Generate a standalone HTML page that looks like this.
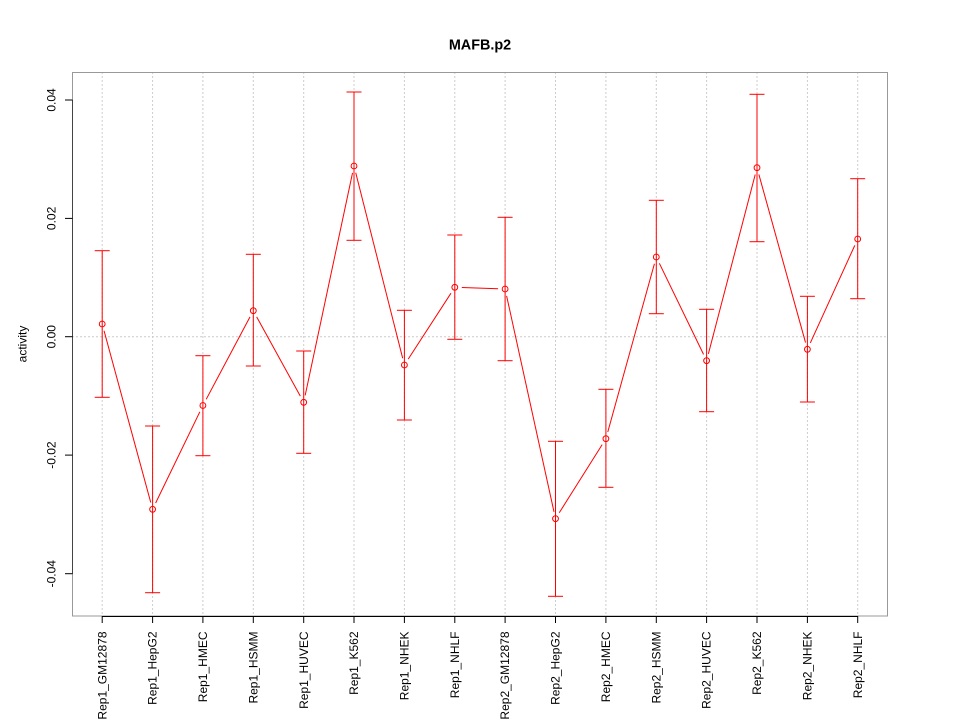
<!DOCTYPE html>
<html><head><meta charset="utf-8"><style>
html,body{margin:0;padding:0;background:#fff;}
svg{display:block;}
text{font-family:"Liberation Sans",Arial,sans-serif;fill:#000;}
</style></head><body>
<svg width="960" height="720" viewBox="0 0 960 720" xmlns="http://www.w3.org/2000/svg">
<rect x="0" y="0" width="960" height="720" fill="#fff"/>
<g stroke="#cccccc" stroke-width="1" stroke-dasharray="2,2" fill="none">
<line x1="102.2" y1="72" x2="102.2" y2="616"/>
<line x1="152.6" y1="72" x2="152.6" y2="616"/>
<line x1="202.9" y1="72" x2="202.9" y2="616"/>
<line x1="253.3" y1="72" x2="253.3" y2="616"/>
<line x1="303.7" y1="72" x2="303.7" y2="616"/>
<line x1="354.0" y1="72" x2="354.0" y2="616"/>
<line x1="404.4" y1="72" x2="404.4" y2="616"/>
<line x1="454.8" y1="72" x2="454.8" y2="616"/>
<line x1="505.1" y1="72" x2="505.1" y2="616"/>
<line x1="555.5" y1="72" x2="555.5" y2="616"/>
<line x1="605.9" y1="72" x2="605.9" y2="616"/>
<line x1="656.3" y1="72" x2="656.3" y2="616"/>
<line x1="706.6" y1="72" x2="706.6" y2="616"/>
<line x1="757.0" y1="72" x2="757.0" y2="616"/>
<line x1="807.4" y1="72" x2="807.4" y2="616"/>
<line x1="857.7" y1="72" x2="857.7" y2="616"/>
<line x1="72" y1="336.7" x2="888" y2="336.7"/>
</g>
<rect x="72.5" y="72.5" width="815" height="543.5" fill="none" stroke="#999" stroke-width="1"/>
<g stroke="#000" stroke-width="1" fill="none">
<line x1="72.5" y1="100" x2="72.5" y2="573.7" stroke="#444"/>
<line x1="65" y1="100" x2="72.5" y2="100"/>
<line x1="65" y1="218.4" x2="72.5" y2="218.4"/>
<line x1="65" y1="336.7" x2="72.5" y2="336.7"/>
<line x1="65" y1="455.1" x2="72.5" y2="455.1"/>
<line x1="65" y1="573.7" x2="72.5" y2="573.7"/>
<line x1="102.2" y1="616.5" x2="857.7" y2="616.5"/>
<line x1="102.2" y1="616" x2="102.2" y2="623"/>
<line x1="152.6" y1="616" x2="152.6" y2="623"/>
<line x1="202.9" y1="616" x2="202.9" y2="623"/>
<line x1="253.3" y1="616" x2="253.3" y2="623"/>
<line x1="303.7" y1="616" x2="303.7" y2="623"/>
<line x1="354.0" y1="616" x2="354.0" y2="623"/>
<line x1="404.4" y1="616" x2="404.4" y2="623"/>
<line x1="454.8" y1="616" x2="454.8" y2="623"/>
<line x1="505.1" y1="616" x2="505.1" y2="623"/>
<line x1="555.5" y1="616" x2="555.5" y2="623"/>
<line x1="605.9" y1="616" x2="605.9" y2="623"/>
<line x1="656.3" y1="616" x2="656.3" y2="623"/>
<line x1="706.6" y1="616" x2="706.6" y2="623"/>
<line x1="757.0" y1="616" x2="757.0" y2="623"/>
<line x1="807.4" y1="616" x2="807.4" y2="623"/>
<line x1="857.7" y1="616" x2="857.7" y2="623"/>
</g>
<g font-size="12" text-anchor="middle">
<text transform="translate(55.3,100) rotate(-90)">0.04</text>
<text transform="translate(55.3,218.4) rotate(-90)">0.02</text>
<text transform="translate(55.3,336.7) rotate(-90)">0.00</text>
<text transform="translate(55.3,455.1) rotate(-90)">-0.02</text>
<text transform="translate(55.3,573.7) rotate(-90)">-0.04</text>
<text transform="translate(26.5,344) rotate(-90)">activity</text>
</g>
<g font-size="12" text-anchor="end">
<text transform="translate(106.3,631.5) rotate(-90)">Rep1_GM12878</text>
<text transform="translate(156.7,631.5) rotate(-90)">Rep1_HepG2</text>
<text transform="translate(207.0,631.5) rotate(-90)">Rep1_HMEC</text>
<text transform="translate(257.4,631.5) rotate(-90)">Rep1_HSMM</text>
<text transform="translate(307.8,631.5) rotate(-90)">Rep1_HUVEC</text>
<text transform="translate(358.1,631.5) rotate(-90)">Rep1_K562</text>
<text transform="translate(408.5,631.5) rotate(-90)">Rep1_NHEK</text>
<text transform="translate(458.9,631.5) rotate(-90)">Rep1_NHLF</text>
<text transform="translate(509.2,631.5) rotate(-90)">Rep2_GM12878</text>
<text transform="translate(559.6,631.5) rotate(-90)">Rep2_HepG2</text>
<text transform="translate(610.0,631.5) rotate(-90)">Rep2_HMEC</text>
<text transform="translate(660.4,631.5) rotate(-90)">Rep2_HSMM</text>
<text transform="translate(710.7,631.5) rotate(-90)">Rep2_HUVEC</text>
<text transform="translate(761.1,631.5) rotate(-90)">Rep2_K562</text>
<text transform="translate(811.5,631.5) rotate(-90)">Rep2_NHEK</text>
<text transform="translate(861.8,631.5) rotate(-90)">Rep2_NHLF</text>
</g>
<text x="480" y="49.5" font-size="14.4" font-weight="bold" text-anchor="middle">MAFB.p2</text>
<g stroke="#ff0000" stroke-width="1" fill="none">
<!-- error bars -->
<line x1="102.2" y1="250.7" x2="102.2" y2="397.3"/><line x1="94.7" y1="250.7" x2="109.7" y2="250.7"/><line x1="94.7" y1="397.3" x2="109.7" y2="397.3"/>
<line x1="152.6" y1="426" x2="152.6" y2="592.7"/><line x1="145.1" y1="426" x2="160.1" y2="426"/><line x1="145.1" y1="592.7" x2="160.1" y2="592.7"/>
<line x1="202.9" y1="355.7" x2="202.9" y2="455.7"/><line x1="195.4" y1="355.7" x2="210.4" y2="355.7"/><line x1="195.4" y1="455.7" x2="210.4" y2="455.7"/>
<line x1="253.3" y1="254.3" x2="253.3" y2="366"/><line x1="245.8" y1="254.3" x2="260.8" y2="254.3"/><line x1="245.8" y1="366" x2="260.8" y2="366"/>
<line x1="303.7" y1="351" x2="303.7" y2="453.3"/><line x1="296.2" y1="351" x2="311.2" y2="351"/><line x1="296.2" y1="453.3" x2="311.2" y2="453.3"/>
<line x1="354.0" y1="92" x2="354.0" y2="240.3"/><line x1="346.5" y1="92" x2="361.5" y2="92"/><line x1="346.5" y1="240.3" x2="361.5" y2="240.3"/>
<line x1="404.4" y1="310.3" x2="404.4" y2="420"/><line x1="396.9" y1="310.3" x2="411.9" y2="310.3"/><line x1="396.9" y1="420" x2="411.9" y2="420"/>
<line x1="454.8" y1="235" x2="454.8" y2="339.3"/><line x1="447.3" y1="235" x2="462.3" y2="235"/><line x1="447.3" y1="339.3" x2="462.3" y2="339.3"/>
<line x1="505.1" y1="217.3" x2="505.1" y2="360.7"/><line x1="497.6" y1="217.3" x2="512.6" y2="217.3"/><line x1="497.6" y1="360.7" x2="512.6" y2="360.7"/>
<line x1="555.5" y1="441.3" x2="555.5" y2="596.3"/><line x1="548.0" y1="441.3" x2="563.0" y2="441.3"/><line x1="548.0" y1="596.3" x2="563.0" y2="596.3"/>
<line x1="605.9" y1="389.3" x2="605.9" y2="487.3"/><line x1="598.4" y1="389.3" x2="613.4" y2="389.3"/><line x1="598.4" y1="487.3" x2="613.4" y2="487.3"/>
<line x1="656.3" y1="200.3" x2="656.3" y2="313.7"/><line x1="648.8" y1="200.3" x2="663.8" y2="200.3"/><line x1="648.8" y1="313.7" x2="663.8" y2="313.7"/>
<line x1="706.6" y1="309.3" x2="706.6" y2="411.7"/><line x1="699.1" y1="309.3" x2="714.1" y2="309.3"/><line x1="699.1" y1="411.7" x2="714.1" y2="411.7"/>
<line x1="757.0" y1="94.3" x2="757.0" y2="241.7"/><line x1="749.5" y1="94.3" x2="764.5" y2="94.3"/><line x1="749.5" y1="241.7" x2="764.5" y2="241.7"/>
<line x1="807.4" y1="296.3" x2="807.4" y2="402"/><line x1="799.9" y1="296.3" x2="814.9" y2="296.3"/><line x1="799.9" y1="402" x2="814.9" y2="402"/>
<line x1="857.7" y1="178.7" x2="857.7" y2="298.7"/><line x1="850.2" y1="178.7" x2="865.2" y2="178.7"/><line x1="850.2" y1="298.7" x2="865.2" y2="298.7"/>
<!-- points -->
<circle cx="102.2" cy="324" r="2.9"/>
<circle cx="152.6" cy="509.3" r="2.9"/>
<circle cx="202.9" cy="405.5" r="2.9"/>
<circle cx="253.3" cy="310.7" r="2.9"/>
<circle cx="303.7" cy="402.3" r="2.9"/>
<circle cx="354.0" cy="166" r="2.9"/>
<circle cx="404.4" cy="365" r="2.9"/>
<circle cx="454.8" cy="287.3" r="2.9"/>
<circle cx="505.1" cy="289" r="2.9"/>
<circle cx="555.5" cy="518.7" r="2.9"/>
<circle cx="605.9" cy="438.7" r="2.9"/>
<circle cx="656.3" cy="257" r="2.9"/>
<circle cx="706.6" cy="360.7" r="2.9"/>
<circle cx="757.0" cy="167.7" r="2.9"/>
<circle cx="807.4" cy="349.3" r="2.9"/>
<circle cx="857.7" cy="239" r="2.9"/>
<!-- connecting segments -->
<line x1="104.04" y1="330.76" x2="150.76" y2="502.54"/>
<line x1="155.65" y1="503.0" x2="199.85" y2="411.8"/>
<line x1="206.19" y1="399.32" x2="250.01" y2="316.88"/>
<line x1="256.67" y1="316.83" x2="300.33" y2="396.17"/>
<line x1="305.16" y1="395.45" x2="352.54" y2="172.85"/>
<line x1="355.72" y1="172.79" x2="402.68" y2="358.21"/>
<line x1="408.21" y1="359.13" x2="450.99" y2="293.17"/>
<line x1="461.80" y1="287.54" x2="498.10" y2="288.76"/>
<line x1="506.60" y1="295.84" x2="554.00" y2="511.86"/>
<line x1="559.23" y1="512.78" x2="602.17" y2="444.62"/>
<line x1="607.77" y1="431.96" x2="654.43" y2="263.74"/>
<line x1="659.35" y1="263.30" x2="703.55" y2="354.40"/>
<line x1="708.37" y1="353.93" x2="755.23" y2="174.47"/>
<line x1="758.87" y1="174.44" x2="805.53" y2="342.56"/>
<line x1="810.31" y1="342.93" x2="854.80" y2="245.37"/>
</g>
</svg>
</body></html>
